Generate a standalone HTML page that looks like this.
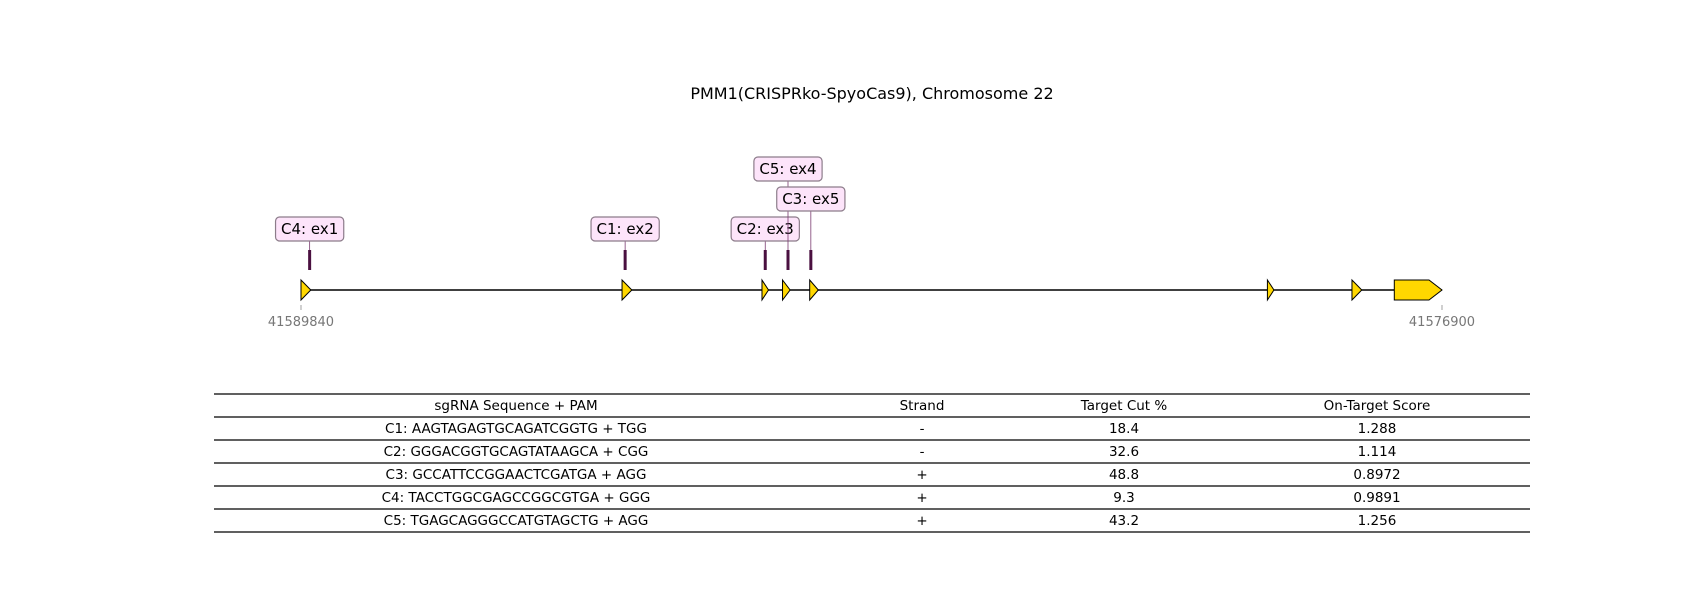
<!DOCTYPE html>
<html><head><meta charset="utf-8"><style>
body{margin:0;background:#fff;font-family:"DejaVu Sans","Liberation Sans",sans-serif;}
svg text{font-family:"DejaVu Sans","Liberation Sans",sans-serif;}
</style></head><body>
<svg id="chart" width="1700" height="600" xmlns="http://www.w3.org/2000/svg">
<text x="872" y="99" font-size="16" text-anchor="middle">PMM1(CRISPRko-SpyoCas9), Chromosome 22</text>
<g id="gene"></g>
<g id="table"></g>
</svg>
<script>
const startPos = 41589840, endPos = 41576900;
const exonStarts = [41589840, 41586199, 41584612, 41584379, 41584071, 41578880, 41577921, 41577441];
const exonEnds   = [41589729, 41586088, 41584538, 41584293, 41583973, 41578806, 41577810, 41576900];
const guideNames = ["C4: ex1", "C1: ex2", "C2: ex3", "C5: ex4", "C3: ex5"];
const guideCuts  = [41589742, 41586164, 41584575, 41584317, 41584058];
const guideLevels = [0, 0, 0, 2, 1];
const headers = ["sgRNA Sequence + PAM", "Strand", "Target Cut %", "On-Target Score"];
const col1 = ["C1: AAGTAGAGTGCAGATCGGTG + TGG","C2: GGGACGGTGCAGTATAAGCA + CGG","C3: GCCATTCCGGAACTCGATGA + AGG","C4: TACCTGGCGAGCCGGCGTGA + GGG","C5: TGAGCAGGGCCATGTAGCTG + AGG"];
const col2 = ["-","-","+","+","+"];
const col3 = ["18.4","32.6","48.8","9.3","43.2"];
const col4 = ["1.288","1.114","0.8972","0.9891","1.256"];

const NS="http://www.w3.org/2000/svg";
function mk(tag, attrs, parent){const e=document.createElementNS(NS,tag);for(const k in attrs)e.setAttribute(k,attrs[k]);parent.appendChild(e);return e;}
const x = g => 301 + (startPos - g) * (1442 - 301) / (startPos - endPos);
const gG = document.getElementById('gene');
const lineY = 290;
let bl = mk('line',{x1:x(startPos),x2:x(endPos),y1:lineY,y2:lineY,stroke:'#000','stroke-width':1.6},gG);


exonStarts.forEach((s,i)=>{
  const a=x(s), b=x(exonEnds[i]), last=i===exonStarts.length-1;
  const tip = last ? Math.min(13,(b-a)) : Math.min(10,(b-a));
  const pts = `${a},${lineY-10} ${b-tip},${lineY-10} ${b},${lineY} ${b-tip},${lineY+10} ${a},${lineY+10}`;
  const p=mk('polygon',{points:pts,fill:'#FFD700',stroke:'#000','stroke-width':1},gG);
  
  
});
[[startPos,'41589840'],[endPos,'41576900']].forEach(([g,t])=>{
  mk('line',{x1:x(g),x2:x(g),y1:305,y2:310,stroke:'#888','stroke-width':0.8},gG);
  const tt=mk('text',{x:x(g),y:326,'font-size':13,fill:'#777','text-anchor':'middle'},gG);tt.textContent=t;
  
  
});
guideCuts.forEach((c,i)=>{
  const cx=x(c), by=229-guideLevels[i]*30;
  mk('line',{x1:cx,x2:cx,y1:by+11,y2:250,stroke:'#7a3a70','stroke-width':0.8},gG);
  const m=mk('rect',{x:cx-1.5,y:250,width:3,height:20,fill:'#4a1040'},gG);
  
  
  const w=guideNames[i].length*8.6+8;
  const r=mk('rect',{x:cx-w/2,y:by-12,width:w,height:24,rx:4,fill:'#fde4fa',stroke:'#8c7c8a','stroke-width':1.2},gG);
  
  
  const t=mk('text',{x:cx,y:by+5,'font-size':15,'text-anchor':'middle'},gG);t.textContent=guideNames[i];
  
  
});
const tG=document.getElementById('table');
const ys=[394,417,440,463,486,509,532];
ys.forEach(y=>mk('line',{x1:214,x2:1530,y1:y,y2:y,stroke:'#000','stroke-width':1.2},tG));
const cx=[516,922,1124,1377];
headers.forEach((h,j)=>{const t=mk('text',{x:cx[j],y:410,'font-size':13.5,'text-anchor':'middle'},tG);t.textContent=h;
  
  });
const cols=[col1,col2,col3,col4];
for(let i=0;i<5;i++)for(let j=0;j<4;j++){const t=mk('text',{x:cx[j],y:433+i*23,'font-size':13.5,'text-anchor':'middle'},tG);t.textContent=cols[j][i];
  
  }
</script>
</body></html>
